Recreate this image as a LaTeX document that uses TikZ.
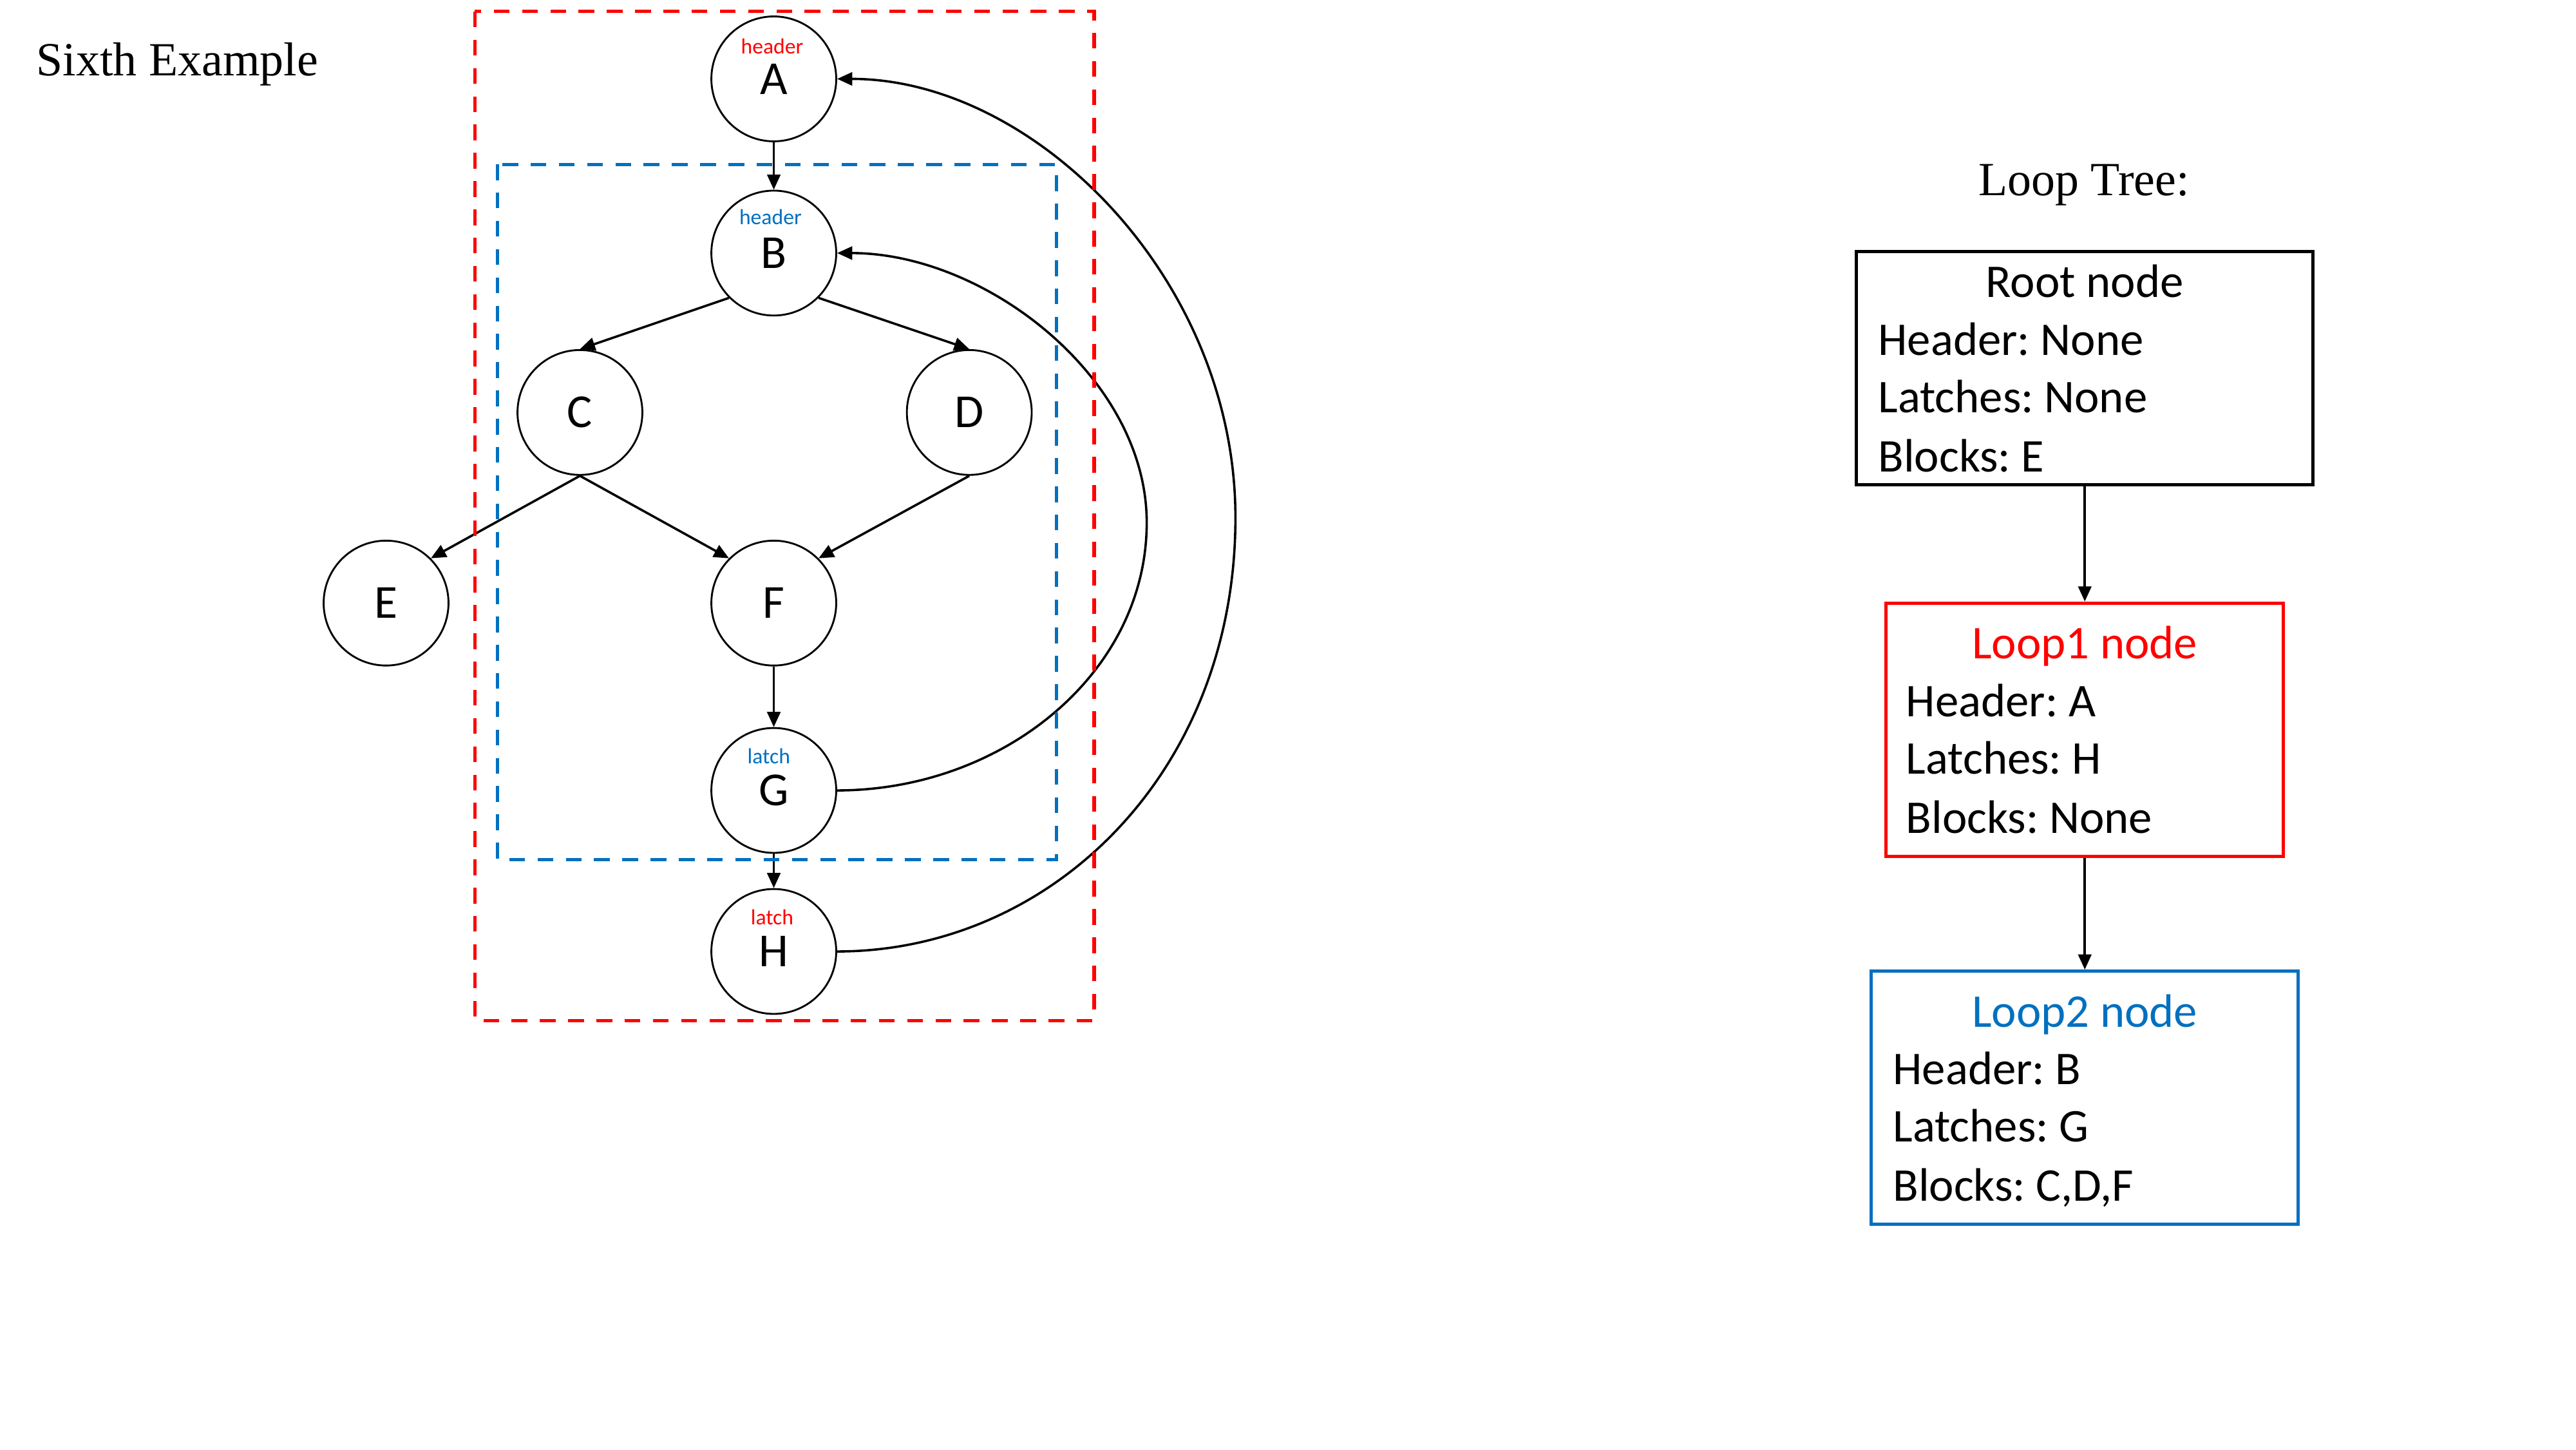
\documentclass[tikz,border=0pt]{standalone}
\usepackage{fontspec}
\setmainfont{Liberation Serif}
\newfontfamily\calib{Carlito}
\usetikzlibrary{arrows.meta}
\frenchspacing

\definecolor{loopred}{RGB}{255,0,0}
\definecolor{loopblue}{RGB}{0,112,192}

\tikzset{
  blk/.style={circle, draw, line width=0.8pt, minimum size=19mm, inner sep=0pt,
              font=\calib\fontsize{20.5}{22}\selectfont},
  tag/.style={inner sep=0pt, font=\calib\fontsize{9.4}{10}\selectfont},
  edge/.style={-{Triangle[length=2.3mm,width=2mm]}, line width=1pt},
  loopframe/.style={line width=1.4pt, dash pattern=on 2.4mm off 1.9mm},
  treebox/.style={draw, line width=1.4pt, inner sep=0pt},
  treetext/.style={anchor=base west, inner sep=0pt, font=\calib\fontsize{20.3}{24}\selectfont},
  treetitle/.style={anchor=base, inner sep=0pt, font=\calib\fontsize{20.3}{24}\selectfont},
  heading/.style={anchor=base west, inner sep=0pt, font=\fontsize{20.6}{24}\selectfont},
}

\begin{document}
\begin{tikzpicture}[x=0.25mm, y=-0.25mm]
\useasboundingbox (0,0) rectangle (1568,882);

% headings
\node[heading] (title) at (22,46) {Sixth Example};
\node[heading] (treehead) at (1204,119) {Loop Tree:};

% control flow graph blocks
\node[blk] (A) at (471,48) {A};
\node[blk] (B) at (471,154) {B};
\node[blk] (C) at (353,251) {C};
\node[blk] (D) at (590,251) {D};
\node[blk] (E) at (235,367) {E};
\node[blk] (F) at (471,367) {F};
\node[blk] (G) at (471,481) {G};
\node[blk] (H) at (471,579) {H};

% header / latch tags
\node[tag, text=loopred]  (hA) at (470,28)  {header};
\node[tag, text=loopblue] (hB) at (469,132) {header};
\node[tag, text=loopblue] (lG) at (468,460) {latch};
\node[tag, text=loopred]  (lH) at (470,558) {latch};

% forward edges
\draw[edge] (A.south) -- (B.north);
\draw[edge] (B.south west) -- (C.north);
\draw[edge] (B.south east) -- (D.north);
\draw[edge] (C.south) -- (E.north east);
\draw[edge] (C.south) -- (F.north west);
\draw[edge] (D.south) -- (F.north east);
\draw[edge] (F.south) -- (G.north);
\draw[edge] (G.south) -- (H.north);

% back edges
\draw[edge] (G.east) .. controls (610,481) and (698,410) .. (698,318)
                     .. controls (698,230) and (600,154) .. (B.east);
\draw[edge] (H.east) .. controls (640,579) and (752,470) .. (752,315)
                     .. controls (752,170) and (630,48) .. (A.east);

% loop regions
\draw[loopframe, loopred]  (289,7) rectangle (666,621);
\draw[loopframe, loopblue] (303,100) rectangle (643,523);

% loop tree
\node[treebox, minimum width=69.5mm, minimum height=35.5mm] (root) at (1269,224) {};
\node[treebox, draw=loopred, minimum width=60.5mm, minimum height=38.5mm] (loop1) at (1269,444) {};
\node[treebox, draw=loopblue, minimum width=65mm, minimum height=38.5mm] (loop2) at (1269,668) {};

\node[treetitle] (rt) at (1269,181) {Root node};
\node[treetext] (r1) at (1143,216) {Header: None};
\node[treetext] (r2) at (1143,251) {Latches: None};
\node[treetext] (r3) at (1143,287) {Blocks: E};

\node[treetitle, text=loopred] (l1t) at (1269,401) {Loop1 node};
\node[treetext] (l11) at (1160,436) {Header: A};
\node[treetext] (l12) at (1160,471) {Latches: H};
\node[treetext] (l13) at (1160,507) {Blocks: None};

\node[treetitle, text=loopblue] (l2t) at (1269,625) {Loop2 node};
\node[treetext] (l21) at (1152,660) {Header: B};
\node[treetext] (l22) at (1152,695) {Latches: G};
\node[treetext] (l23) at (1152,731) {Blocks: C,D,F};

\draw[edge] (root.south) -- (loop1.north);
\draw[edge] (loop1.south) -- (loop2.north);
\end{tikzpicture}
\end{document}
